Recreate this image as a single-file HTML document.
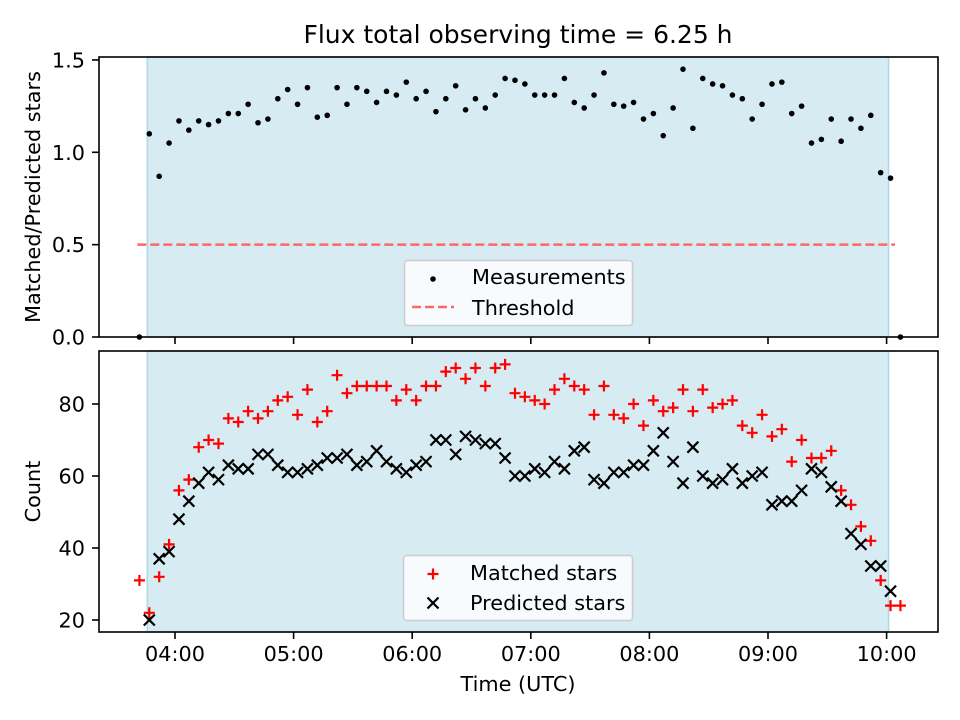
<!DOCTYPE html>
<html><head><meta charset="utf-8"><style>
body{margin:0;background:#fff}
svg{display:block;font-family:"DejaVu Sans","Liberation Sans",sans-serif}
</style></head><body>
<svg id="chart" width="960" height="720" viewBox="0 0 960 720" xmlns="http://www.w3.org/2000/svg">
<rect width="960" height="720" fill="#fff"/>
<text x="518" y="43" font-size="25" text-anchor="middle">Flux total observing time = 6.25 h</text>
<g id="top"></g><g id="bot"></g>
</svg>
<script>
const times=["03:42","03:47","03:52","03:57","04:02","04:07","04:12","04:17","04:22","04:27","04:32","04:37","04:42","04:47","04:52","04:57","05:02","05:07","05:12","05:17","05:22","05:27","05:32","05:37","05:42","05:47","05:52","05:57","06:02","06:07","06:12","06:17","06:22","06:27","06:32","06:37","06:42","06:47","06:52","06:57","07:02","07:07","07:12","07:17","07:22","07:27","07:32","07:37","07:42","07:47","07:52","07:57","08:02","08:07","08:12","08:17","08:22","08:27","08:32","08:37","08:42","08:47","08:52","08:57","09:02","09:07","09:12","09:17","09:22","09:27","09:32","09:37","09:42","09:47","09:52","09:57","10:02","10:07"];
const ratio=[0,1.10,0.87,1.05,1.17,1.12,1.17,1.15,1.17,1.21,1.21,1.26,1.16,1.18,1.29,1.34,1.26,1.35,1.19,1.20,1.35,1.26,1.35,1.33,1.27,1.33,1.31,1.38,1.29,1.33,1.22,1.29,1.36,1.23,1.29,1.24,1.31,1.40,1.39,1.37,1.31,1.31,1.31,1.40,1.27,1.24,1.31,1.43,1.26,1.25,1.27,1.18,1.21,1.09,1.24,1.45,1.13,1.40,1.37,1.36,1.31,1.29,1.18,1.26,1.37,1.38,1.21,1.25,1.05,1.07,1.18,1.06,1.18,1.13,1.20,0.89,0.86,0];
const matched=[31,22,32,41,56,59,68,70,69,76,75,78,76,78,81,82,77,84,75,78,88,83,85,85,85,85,81,84,81,85,85,89,90,87,90,85,90,91,83,82,81,80,84,87,85,84,77,85,77,76,80,74,81,78,79,84,78,84,79,80,81,74,72,77,71,73,64,70,65,65,67,56,52,46,42,31,24,24];
const predicted=[null,20,37,39,48,53,58,61,59,63,62,62,66,66,63,61,61,62,63,65,65,66,63,64,67,64,62,61,63,64,70,70,66,71,70,69,69,65,60,60,62,61,64,62,67,68,59,58,61,61,63,63,67,72,64,58,68,60,58,59,62,58,60,61,52,53,53,56,62,61,57,53,44,41,35,35,28,null];
const xTicks=["04:00","05:00","06:00","07:00","08:00","09:00","10:00"];
const topTicks=[0,0.5,1.0,1.5];
const botTicks=[20,40,60,80];
const threshold=0.5;
const spanStart="03:46", spanEnd="10:01";

const NS="http://www.w3.org/2000/svg";
const L=99,R=938;
const FS=20.8;
function hrs(s){const p=s.split(":");return +p[0]+(+p[1])/60;}
function X(s){return 175+(hrs(s)-4)*118.6;}
function Yt(v){return 337-v*184.7;}
function Yb(v){return 620-(v-20)*3.6;}
function mk(parent,tag,attrs,name,txt){const e=document.createElementNS(NS,tag);for(const k in attrs)e.setAttribute(k,attrs[k]);


if(txt!==undefined)e.textContent=txt;parent.appendChild(e);return e;}
function panel(g,top,bot,yf,ticks,fmt,ylab,showX){
  mk(g,'rect',{x:X(spanStart),y:top,width:X(spanEnd)-X(spanStart),height:bot-top,fill:'#add8e6','fill-opacity':0.5,stroke:'#add8e6','stroke-width':1.5},'observing-span');
  ticks.forEach(t=>{const y=yf(t);mk(g,'line',{x1:L-7,x2:L,y1:y,y2:y,stroke:'#000','stroke-width':1.6},'y-tick');
    mk(g,'text',{x:L-14,y:y+7.5,'font-size':FS,'text-anchor':'end'},'y-tick-label',fmt(t));});
  xTicks.forEach(t=>{const x=X(t);mk(g,'line',{x1:x,x2:x,y1:bot,y2:bot+7,stroke:'#000','stroke-width':1.6},'x-tick');
    if(showX)mk(g,'text',{x:x,y:bot+29,'font-size':FS,'text-anchor':'middle'},'x-tick-label',t);});
  mk(g,'text',{x:0,y:0,'font-size':FS,'text-anchor':'middle',transform:`translate(40,${(top+bot)/2}) rotate(-90)`},'y-axis-title',ylab);
}
const gt=document.getElementById('top'),gb=document.getElementById('bot');
panel(gt,57,337,Yt,topTicks,v=>v.toFixed(1),'Matched/Predicted stars',false);
mk(gt,'line',{x1:X(spanStart)-10,x2:895,y1:Yt(threshold),y2:Yt(threshold),stroke:'#ff6666','stroke-width':2.5,'stroke-dasharray':'9,4'},'threshold-line');
ratio.forEach((v,i)=>mk(gt,'circle',{cx:X(times[i]),cy:Yt(v),r:2.8,fill:'#000'},'measurement-point'));
mk(gt,'rect',{x:L,y:57,width:R-L,height:280,fill:'none',stroke:'#000','stroke-width':1.6},'top-axes-frame');
mk(gt,'rect',{x:404.5,y:260.5,width:228,height:65,rx:3,fill:'#fff','fill-opacity':0.8,stroke:'#ccc','stroke-width':1.5},'top-legend');
mk(gt,'circle',{cx:433,cy:279,r:2.8,fill:'#000'},'legend-measurements-marker');
mk(gt,'text',{x:472,y:284,'font-size':FS},'legend-measurements','Measurements');
mk(gt,'line',{x1:412,x2:454,y1:307,y2:307,stroke:'#ff6666','stroke-width':2.5,'stroke-dasharray':'9,4'},'legend-threshold-line');
mk(gt,'text',{x:472,y:315,'font-size':FS},'legend-threshold','Threshold');

panel(gb,351,632,Yb,botTicks,v=>String(v),'Count',true);
function plus(g,x,y,name){mk(g,'path',{d:`M${x-5.5} ${y}H${x+5.5}M${x} ${y-5.5}V${y+5.5}`,stroke:'#f00','stroke-width':2.2},name);}
function cross(g,x,y,name){mk(g,'path',{d:`M${x-5.5} ${y-5.5}L${x+5.5} ${y+5.5}M${x-5.5} ${y+5.5}L${x+5.5} ${y-5.5}`,stroke:'#000','stroke-width':2.2},name);}
matched.forEach((v,i)=>{if(v!=null&&times[i])plus(gb,X(times[i]),Yb(v),'matched-point');});
predicted.forEach((v,i)=>{if(v!=null&&times[i])cross(gb,X(times[i]),Yb(v),'predicted-point');});
mk(gb,'rect',{x:L,y:351,width:R-L,height:281,fill:'none',stroke:'#000','stroke-width':1.6},'bottom-axes-frame');
mk(gb,'rect',{x:403.5,y:555.5,width:229,height:65,rx:3,fill:'#fff','fill-opacity':0.8,stroke:'#ccc','stroke-width':1.5},'bottom-legend');
plus(gb,433,574,'legend-matched-marker');
mk(gb,'text',{x:470,y:580,'font-size':FS},'legend-matched','Matched stars');
cross(gb,433,603,'legend-predicted-marker');
mk(gb,'text',{x:470,y:610,'font-size':FS},'legend-predicted','Predicted stars');
mk(gb,'text',{x:518,y:691,'font-size':FS,'text-anchor':'middle'},'x-axis-title','Time (UTC)');
</script>
</body></html>
